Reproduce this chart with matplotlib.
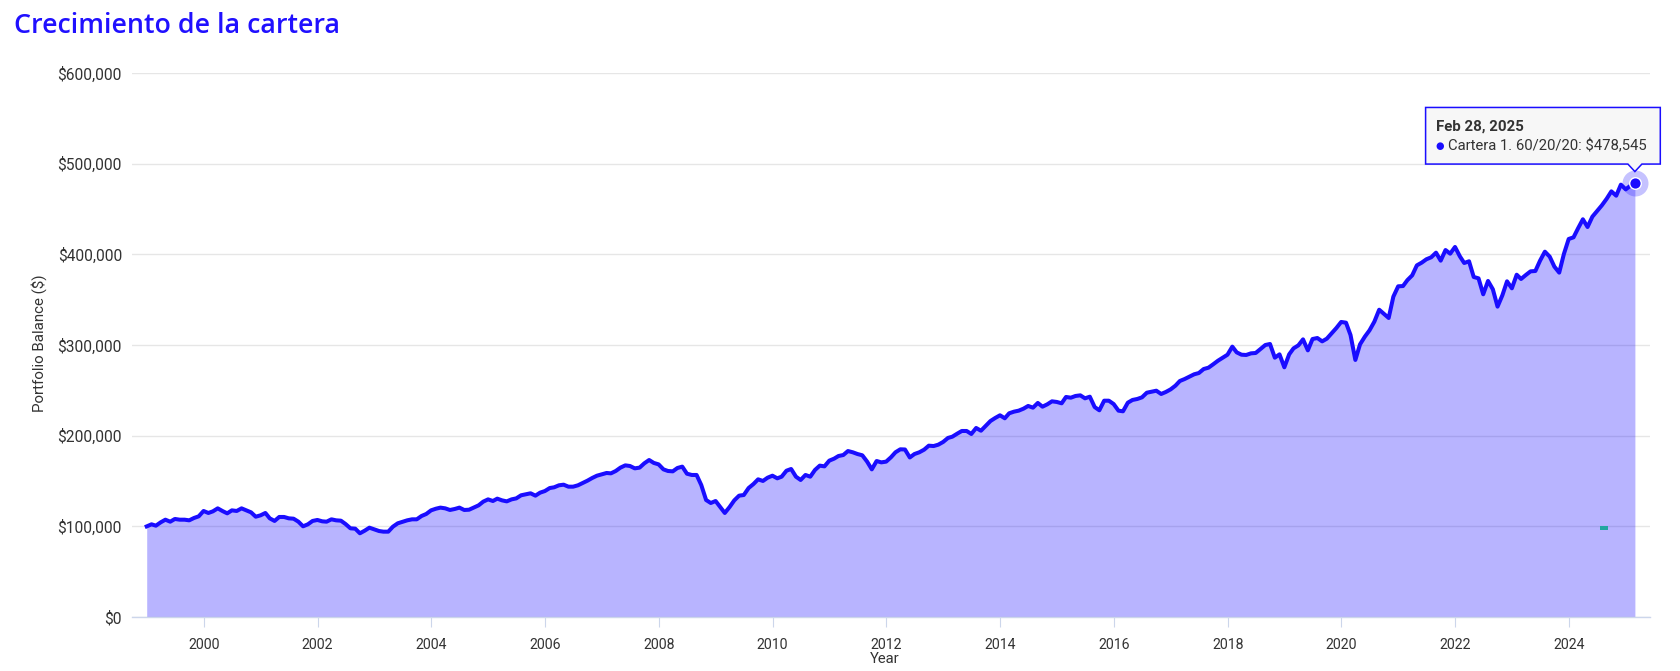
import matplotlib
matplotlib.use("Agg")
import matplotlib.pyplot as plt
import matplotlib.dates as mdates
from matplotlib.transforms import IdentityTransform
from matplotlib.patches import Polygon
from matplotlib.ticker import FuncFormatter
import numpy as np
import pandas as pd

# ---------------- data (portfolio balance, thousands of $, month ends Dec-1998 .. Feb-2025)
balance_k = [
    100.0, 102.3, 100.8, 104.5, 107.4, 105.2, 108.2, 107.4, 107.4, 106.7, 109.3, 111.1,
    117.0, 114.8, 116.6, 119.9, 117.0, 114.4, 117.7, 117.0, 119.9, 117.7, 115.5, 110.7,
    112.2, 114.8, 108.9, 106.0, 110.4, 110.4, 108.9, 108.5, 105.2, 100.1, 102.3, 106.0,
    107.1, 105.6, 105.2, 107.8, 106.7, 106.3, 102.6, 97.9, 97.5, 92.4, 95.3, 98.6,
    96.8, 94.9, 94.2, 94.2, 99.7, 103.4, 105.0, 106.7, 107.8, 107.8, 111.5, 113.7,
    117.7, 119.5, 120.7, 119.9, 118.1, 119.2, 120.7, 118.1, 118.4, 120.7, 123.2, 127.3,
    129.8, 128.0, 130.6, 128.7, 127.6, 129.8, 130.9, 134.3, 135.4, 136.5, 133.9, 137.2,
    139.0, 142.3, 143.1, 145.3, 146.0, 143.8, 143.8, 145.3, 147.9, 150.4, 153.4, 155.9,
    157.4, 158.9, 158.5, 161.1, 164.8, 167.3, 166.6, 164.0, 164.8, 169.5, 173.2, 170.0,
    168.4, 162.9, 161.1, 160.7, 164.4, 165.9, 158.1, 156.7, 156.7, 145.6, 129.1, 125.8,
    128.0, 121.0, 114.8, 121.4, 128.7, 133.9, 134.6, 142.3, 146.7, 151.9, 150.1, 153.7,
    155.9, 153.0, 154.8, 161.4, 163.3, 154.8, 151.2, 156.7, 154.8, 162.2, 167.0, 166.2,
    172.5, 174.7, 177.6, 178.7, 183.1, 181.7, 179.8, 178.4, 171.4, 162.9, 172.1, 170.6,
    171.4, 176.2, 181.7, 185.0, 184.8, 176.0, 179.8, 181.7, 184.6, 189.0, 188.6, 190.1,
    193.1, 197.5, 198.9, 202.2, 205.2, 205.2, 201.9, 208.5, 205.5, 210.7, 216.2, 219.5,
    222.5, 219.2, 224.7, 226.5, 227.6, 229.8, 232.8, 230.9, 236.1, 232.0, 234.6, 237.9,
    237.2, 235.7, 242.7, 241.9, 243.8, 244.5, 241.2, 243.0, 231.6, 228.0, 238.6, 238.6,
    234.9, 227.6, 226.9, 236.4, 239.4, 240.5, 242.3, 247.4, 248.5, 249.6, 246.0, 248.2,
    251.1, 255.2, 260.3, 262.5, 265.1, 267.7, 269.1, 273.5, 275.0, 278.7, 282.7, 286.0,
    289.3, 298.2, 291.9, 289.3, 289.0, 290.8, 291.2, 295.6, 300.0, 301.1, 286.0, 289.7,
    275.4, 289.7, 296.3, 299.6, 306.2, 294.1, 306.6, 307.7, 304.0, 307.0, 312.9, 318.7,
    325.4, 324.6, 311.0, 283.5, 300.7, 309.2, 316.2, 325.7, 338.9, 334.5, 329.8, 353.3,
    364.7, 365.0, 371.5, 376.8, 387.8, 390.8, 394.5, 396.7, 401.8, 393.0, 404.7, 400.7,
    408.1, 397.8, 390.4, 392.3, 375.0, 373.5, 355.9, 370.6, 361.4, 342.3, 354.8, 370.2,
    362.5, 377.5, 372.8, 377.2, 381.2, 381.6, 393.0, 402.9, 397.4, 386.4, 379.8, 400.3,
    416.9, 418.7, 428.6, 438.6, 430.1, 441.5, 447.7, 454.0, 461.3, 469.4, 464.6, 476.8,
    471.6, 475.7, 478.545,
]
first_month_start = "1999-01-01"
series_name = "Cartera 1. 60/20/20"
tooltip_date = "Feb 28, 2025"
title_text = "Crecimiento de la cartera"
y_label = "Portfolio Balance ($)"
x_label = "Year"
y_ticks = [0, 100000, 200000, 300000, 400000, 500000, 600000]
x_tick_years = list(range(2000, 2025, 2))
x_limits = ["1998-09-25", "2025-06-05"]
# small teal artifact near the lower right
artifact_x = ["2024-08-14"]
artifact_y = [98600]

# ---------------- styling
LINE = "#1a0dff"
GRID = "#e6e6e6"
AXIS = "#ccd6eb"
TXT = "#333333"
plt.rcParams["font.family"] = ["Roboto", "DejaVu Sans"]

dates = pd.date_range(first_month_start, periods=len(balance_k), freq="MS") - pd.Timedelta(days=1)
values = np.array(balance_k) * 1000.0

W, H = 1680, 671
fig = plt.figure(figsize=(W / 100, H / 100), dpi=100)
ax = fig.add_axes([131.6 / W, (H - 617.1) / H, (1650 - 131.6) / W, (617.1 - 72.9) / H])

ax.fill_between(dates, 0, values, color=LINE, alpha=0.31, lw=0, zorder=2)
ax.plot(dates, values, color=LINE, lw=2.9, solid_joinstyle="round", zorder=3)

ax.set_ylim(0, 600000)
ax.set_xlim(pd.Timestamp(x_limits[0]), pd.Timestamp(x_limits[1]))
ax.set_yticks(y_ticks)
ax.yaxis.set_major_formatter(FuncFormatter(lambda v, p: f"${v:,.0f}"))
ax.set_xticks([pd.Timestamp(f"{y}-01-01") for y in x_tick_years])
ax.set_xticklabels([str(y) for y in x_tick_years])

ax.set_axisbelow(True)
ax.grid(axis="y", color=GRID, lw=1.0)
ax.grid(axis="x", visible=False)
for s in ["top", "right", "left"]:
    ax.spines[s].set_visible(False)
ax.spines["bottom"].set_color(AXIS)
ax.spines["bottom"].set_linewidth(1.0)
ax.spines["bottom"].set_zorder(4)
ax.tick_params(axis="y", length=0, pad=7.0, labelsize=11.2, labelcolor=TXT)
ax.tick_params(axis="x", length=7.2, width=0.8, color=AXIS, pad=8, labelsize=10.2, labelcolor=TXT)

# artifact
ax.plot(pd.to_datetime(artifact_x), artifact_y, ls="none",
        marker=[(-1, -0.5), (1, -0.5), (1, 0.5), (-1, 0.5)], markersize=5.8,
        color="#22a6a0", markeredgewidth=0, zorder=4)

# texts
fig.text(14 / W, 1 - 33 / H, title_text, color="#2010ff", fontsize=19.3,
         family=["Open Sans", "DejaVu Sans"], fontweight="semibold", va="baseline", ha="left")
fig.text(38.6 / W, 1 - 343 / H, y_label, rotation=90, ha="center", va="center",
         fontsize=10.9, color=TXT)
fig.text(885 / W, 1 - 659 / H, x_label, ha="center", va="center", fontsize=10.7, color=TXT)

# hover marker on last point
ax.scatter([dates[-1]], [values[-1]], s=350, color=LINE, alpha=0.25, lw=0, zorder=5, clip_on=False)
ax.scatter([dates[-1]], [values[-1]], s=70, color=LINE, edgecolor="white", lw=1.0, zorder=6, clip_on=False)

# tooltip (positioned in pixels relative to the last point)
px, py = ax.transData.transform((mdates.date2num(dates[-1]), values[-1]))
L, R, B, T = px - 209.3, px + 25.4, py + 19.0, py + 75.6
tip = Polygon([(L, T), (R, T), (R, B), (px + 7, B), (px, py + 11.5), (px - 7, B), (L, B)],
              closed=True, transform=IdentityTransform(), facecolor="#f7f7f7",
              edgecolor=LINE, lw=1.1, zorder=10)
fig.patches.append(tip)
fig.text(px - 199.3, py + 56.6, tooltip_date, transform=IdentityTransform(), fontsize=10.8,
         fontweight="bold", color=TXT, va="center", ha="left", zorder=11)
fig.text(px - 195.3, py + 37.3, "\u25cf", transform=IdentityTransform(), fontsize=7,
         color=LINE, va="center", ha="center", family=["DejaVu Sans"], zorder=11)
fig.text(px - 187.0, py + 37.3, f"{series_name}: ${values[-1]:,.0f}", transform=IdentityTransform(),
         fontsize=10.75, color=TXT, va="center", ha="left", zorder=11)

fig.savefig("out.png", dpi=100)
